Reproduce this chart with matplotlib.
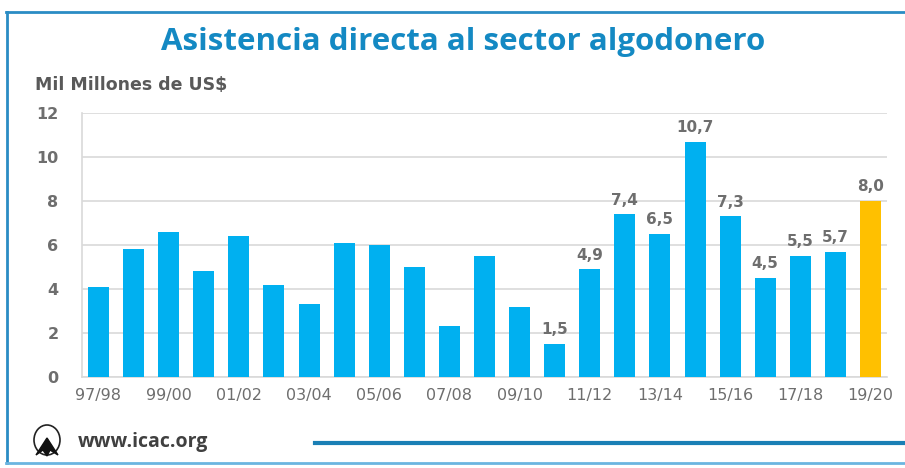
import matplotlib
matplotlib.use("Agg")
import matplotlib.pyplot as plt
from matplotlib.patches import Ellipse, Polygon
from matplotlib.lines import Line2D

seasons = ["97/98", "98/99", "99/00", "00/01", "01/02", "02/03", "03/04", "04/05",
           "05/06", "06/07", "07/08", "08/09", "09/10", "10/11", "11/12", "12/13",
           "13/14", "14/15", "15/16", "16/17", "17/18", "18/19", "19/20"]
values = [4.1, 5.8, 6.6, 4.8, 6.4, 4.2, 3.3, 6.1, 6.0, 5.0, 2.3, 5.5, 3.2, 1.5,
          4.9, 7.4, 6.5, 10.7, 7.3, 4.5, 5.5, 5.7, 8.0]
labeled = ["10/11", "11/12", "12/13", "13/14", "14/15", "15/16", "16/17", "17/18",
           "18/19", "19/20"]
highlight = "19/20"
yticks = [0, 2, 4, 6, 8, 10, 12]

title = "Asistencia directa al sector algodonero"
ylabel = "Mil Millones de US$"
footer = "www.icac.org"

BLUE = "#00B0F0"
GOLD = "#FFC000"
GREY = "#595959"
LGREY = "#6E6E6E"
FRAME = "#2A8CC4"

fig = plt.figure(figsize=(9.05, 4.68), dpi=100)
ax = fig.add_axes([82/905, (468-377)/468, (887-82)/905, (377-113)/468])

x = list(range(len(seasons)))
colors = [GOLD if s == highlight else BLUE for s in seasons]
ax.bar(x, values, width=0.6, color=colors, zorder=3)

for xi, s, v in zip(x, seasons, values):
    if s in labeled:
        ax.text(xi, v + 0.3, f"{v:.1f}".replace(".", ","), ha="center", va="bottom",
                fontsize=11, fontweight="bold", color=LGREY, family="DejaVu Sans")

ax.set_xlim(-0.47, len(seasons) - 0.53)
ax.set_ylim(0, 12)
ax.set_yticks(yticks)
ax.set_yticklabels([str(t) for t in yticks], fontsize=11.5, fontweight="bold",
                   color=LGREY, family="DejaVu Sans")
ax.set_xticks(x[::2])
ax.set_xticklabels(seasons[::2], fontsize=11.5, color=LGREY, family="DejaVu Sans")
ax.tick_params(axis="y", length=0, pad=17)
ax.tick_params(axis="x", length=0, pad=8)
ax.grid(axis="y", color="#D9D9D9", linewidth=1.2, zorder=0)
for sp in ["top", "right"]:
    ax.spines[sp].set_visible(False)
ax.spines["left"].set_color("#D9D9D9")
ax.spines["left"].set_linewidth(1.2)
ax.spines["bottom"].set_color("#D9D9D9")
ax.spines["bottom"].set_linewidth(1.2)

# frame
fig.add_artist(Line2D([7/905, 7/905], [1-12/468, 1-463/468], color=FRAME, lw=2,
                      transform=fig.transFigure))
fig.add_artist(Line2D([6/905, 1.0], [1-12/468, 1-12/468], color=FRAME, lw=2,
                      transform=fig.transFigure))
fig.add_artist(Line2D([6/905, 1.0], [1-463/468, 1-463/468], color="#6BB5E0", lw=2,
                      transform=fig.transFigure))

fig.text(463/905, 1-42/468, title, ha="center", va="center", fontsize=22.5,
         fontweight="bold", color="#1489C3", family="Open Sans")
fig.text(35/905, 1-85/468, ylabel, ha="left", va="center", fontsize=12.5,
         fontweight="bold", color=GREY, family="DejaVu Sans")

# footer
fig.text(78/905, 1-442/468, footer, ha="left", va="center", fontsize=14,
         fontweight="bold", color="#404040", family="Open Sans")
fig.add_artist(Line2D([315/905, 1.0], [1-443/468, 1-443/468], color="#1A7FB5", lw=3,
                      transform=fig.transFigure))
# simple cotton boll logo
fig.add_artist(Ellipse((47/905, 1-440/468), 26/905, 30/468, facecolor="white",
                       edgecolor="#222222", lw=1.2, transform=fig.transFigure))
fig.add_artist(Polygon([(36/905, 1-455/468), (47/905, 1-438/468), (58/905, 1-455/468),
                        (50/905, 1-450/468), (47/905, 1-456/468), (43/905, 1-450/468)],
                       closed=True, facecolor="#111111", edgecolor="#111111",
                       transform=fig.transFigure))

fig.savefig("out.png", dpi=100)
